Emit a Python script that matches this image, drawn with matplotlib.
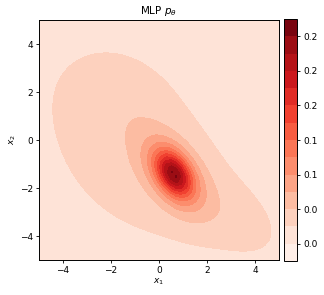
import numpy as np
import matplotlib
matplotlib.use("Agg")
from matplotlib import pyplot as plt

# gaussian bumps that make up the density
comp_mx = [-0.8, -1.9, 3.4, 0.62, 0.62]
comp_my = [-0.8, 2.1, -3.4, -1.42, -1.42]
comp_su = [4.0, 1.7, 1.8, 1.2, 0.65]    # spread along main axis
comp_sv = [2.8, 1.4, 1.0, 0.68, 0.4]    # spread across
comp_ang = [-40, -25, -35, -55, -60]    # degrees
comp_amp = [0.030, 0.013, 0.016, 0.085, 0.13]

levels = np.arange(-0.02, 0.27, 0.02)
cbar_ticks = [0.0, 0.04, 0.08, 0.12, 0.16, 0.20, 0.24]

# density on a grid
xs = np.linspace(-5, 5, 50)
ys = np.linspace(-5, 5, 50)
X, Y = np.meshgrid(xs, ys)
Z = np.zeros_like(X)
for mx, my, su, sv, ang, amp in zip(comp_mx, comp_my, comp_su, comp_sv, comp_ang, comp_amp):
    a = np.deg2rad(ang)
    u = (X - mx) * np.cos(a) + (Y - my) * np.sin(a)
    v = -(X - mx) * np.sin(a) + (Y - my) * np.cos(a)
    Z += amp * np.exp(-0.5 * ((u / su) ** 2 + (v / sv) ** 2))

plt.rcParams['font.size'] = 6.5
plt.rcParams['axes.linewidth'] = 0.7
plt.rcParams['xtick.major.size'] = 2.5
plt.rcParams['ytick.major.size'] = 2.5
plt.rcParams['xtick.major.width'] = 0.6
plt.rcParams['ytick.major.width'] = 0.6
plt.rcParams['xtick.major.pad'] = 2
plt.rcParams['ytick.major.pad'] = 2

fig = plt.figure(figsize=(3.24, 2.95), dpi=100)
ax = fig.add_axes([39 / 324, 35 / 295, 240 / 324, 240 / 295])
cax = fig.add_axes([284 / 324, 34 / 295, 13 / 324, 242 / 295])

cs = ax.contourf(X, Y, Z, levels=levels, cmap='Reds')
ax.set_xlim(-5, 5)
ax.set_ylim(-5, 5)
ax.set_xticks([-4, -2, 0, 2, 4])
ax.set_yticks([-4, -2, 0, 2, 4])
ax.set_title(r"MLP $p_\theta$", fontsize=7.5, pad=4)
ax.set_xlabel(r"$x_1$", labelpad=1)
ax.set_ylabel(r"$x_2$", labelpad=1)

cb = fig.colorbar(cs, cax=cax, ticks=cbar_ticks, format='%.1f')
cb.outline.set_linewidth(0.7)

fig.savefig("out.png", dpi=100)
